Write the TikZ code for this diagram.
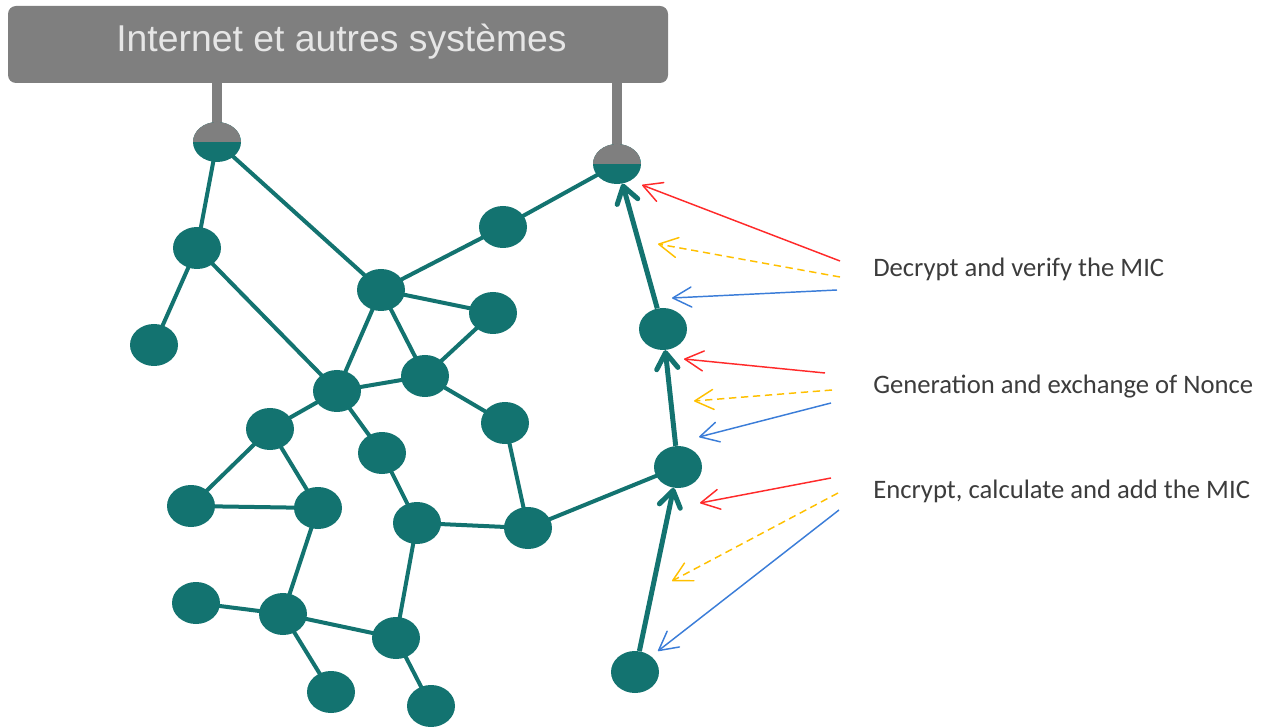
\documentclass[tikz,border=0pt]{standalone}
\usepackage{fontspec}
\setmainfont{Carlito}
\newfontfamily\boxfont{Liberation Sans}
\usetikzlibrary{shapes.geometric,arrows.meta}
\pgfdeclarelayer{bg}
\pgfsetlayers{bg,main}
\definecolor{netteal}{HTML}{137370}
\definecolor{boxgray}{HTML}{7F7F7F}
\definecolor{titlegray}{HTML}{E6E6E6}
\definecolor{labelgray}{HTML}{3C3C3C}
\definecolor{arrred}{HTML}{FF2A2A}
\definecolor{arryellow}{HTML}{FFC000}
\definecolor{arrblue}{HTML}{3B7DD8}
\tikzset{
  host/.style={ellipse, fill=netteal, minimum width=36pt, minimum height=31.5pt, inner sep=0pt},
  gateway/.style={host, minimum height=30pt,
    path picture={\fill[boxgray] (path picture bounding box.north west) rectangle (path picture bounding box.east);}},
  sysbox/.style={rectangle, rounded corners=6pt, fill=boxgray, minimum width=495pt, minimum height=57.75pt, inner sep=0pt},
  stem/.style={draw=boxgray, line width=8pt},
  link/.style={draw=netteal, line width=3pt},
  flow/.style={draw=netteal, line width=3.75pt, -{Straight Barb[length=12pt,width=16pt,round]}},
  msg/.style={line width=1.1pt, -{Straight Barb[length=14pt,width=15pt,round]}},
  msgred/.style={msg, draw=arrred},
  msgyellow/.style={msg, draw=arryellow, dash pattern=on 5.5pt off 3.5pt},
  msgblue/.style={msg, draw=arrblue},
  caption/.style={anchor=base west, text=labelgray, font=\fontsize{20}{24}\selectfont, inner sep=0pt}
}
\begin{document}
\begin{tikzpicture}[x=0.75pt,y=-0.75pt]
\useasboundingbox (0,0) rectangle (1261,727);

% external systems bar
\node[sysbox] (box) at (338,44.5) {};
\node[anchor=base, text=titlegray, font=\boxfont\fontsize{28}{32}\selectfont, inner sep=0pt] (title) at (341.5,52) {Internet et autres systèmes};

% gateways
\node[gateway] (A) at (217,142) {};
\node[gateway] (F) at (617,164) {};

% sensor nodes
\node[host] (B) at (197,248) {};
\node[host] (C) at (154,345) {};
\node[host] (D) at (381,290) {};
\node[host] (E) at (503,227) {};
\node[host] (G) at (493,313) {};
\node[host] (H) at (337,391) {};
\node[host] (I) at (425,376) {};
\node[host] (J) at (270,429) {};
\node[host] (K) at (505,423) {};
\node[host] (L) at (382,453) {};
\node[host] (M) at (191,506) {};
\node[host] (N) at (318,508) {};
\node[host] (O) at (417,523) {};
\node[host] (P) at (528,528) {};
\node[host] (Q) at (678,467) {};
\node[host] (R) at (663,329) {};
\node[host] (S) at (196,603) {};
\node[host] (T) at (283,614) {};
\node[host] (U) at (396,638) {};
\node[host] (V) at (331,692) {};
\node[host] (W) at (431,706) {};
\node[host] (X) at (635,672) {};

\begin{pgfonlayer}{bg}
  \draw[stem] (A.center) -- (A.center |- box.south);
  \draw[stem] (F.center) -- (F.center |- box.south);
  \foreach \u/\v in {A/B, A/D, B/C, B/H, D/E, E/F, D/G, D/H, D/I, G/I,
                     H/I, H/J, H/L, I/K, J/M, J/N, M/N, L/O, O/P, K/P,
                     P/Q, O/U, N/T, S/T, T/U, T/V, U/W}
    \draw[link] (\u.center) -- (\v.center);
\end{pgfonlayer}

% secured route to the gateway
\draw[flow] (X) -- (Q);
\draw[flow] (Q) -- (R);
\draw[flow] (R) -- (F);

% message arrows
\coordinate (r1s) at (840,261); \coordinate (r1t) at (642,185);
\coordinate (y1s) at (840,277); \coordinate (y1t) at (658,244);
\coordinate (b1s) at (837,290); \coordinate (b1t) at (672,298);
\coordinate (r2s) at (825,373); \coordinate (r2t) at (684,359);
\coordinate (y2s) at (832,390); \coordinate (y2t) at (694,401);
\coordinate (b2s) at (831,403); \coordinate (b2t) at (699,437);
\coordinate (r3s) at (831,478); \coordinate (r3t) at (700,503);
\coordinate (y3s) at (838,493); \coordinate (y3t) at (672,581);
\coordinate (b3s) at (839,510); \coordinate (b3t) at (658,651);
\draw[msgred] (r1s) -- (r1t);
\draw[msgyellow] (y1s) -- (y1t);
\draw[msgblue] (b1s) -- (b1t);
\draw[msgred] (r2s) -- (r2t);
\draw[msgyellow] (y2s) -- (y2t);
\draw[msgblue] (b2s) -- (b2t);
\draw[msgred] (r3s) -- (r3t);
\draw[msgyellow] (y3s) -- (y3t);
\draw[msgblue] (b3s) -- (b3t);

% step captions
\node[caption] (cap1) at (873,277) {Decrypt and verify the MIC};
\node[caption] (cap2) at (873,393) {Generation and exchange of Nonce};
\node[caption] (cap3) at (873,498) {Encrypt, calculate and add the MIC};
\end{tikzpicture}
\end{document}
